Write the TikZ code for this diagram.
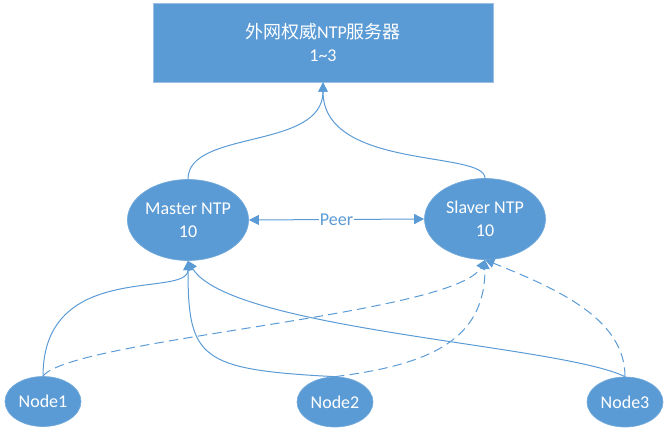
\documentclass[tikz,border=0pt]{standalone}
\usepackage{fontspec}
\setmainfont{Carlito}
\newfontfamily\cjk{Noto Sans CJK SC}
\usetikzlibrary{arrows.meta,shapes.geometric}
\definecolor{vblue}{HTML}{5B9BD5}
\definecolor{vedge}{HTML}{9CBFE3}
\tikzset{
  txt/.style={text=white,font=\fontsize{13.5}{17.25}\selectfont,align=center,inner sep=0pt},
  bigell/.style={ellipse,fill=vblue,draw=vblue!85!white,line width=0.5pt,minimum width=90.75pt,minimum height=60.75pt,txt},
  smallell/.style={ellipse,fill=vblue,draw=vblue!85!white,line width=0.5pt,minimum width=57pt,minimum height=37.5pt,txt},
  topbox/.style={rectangle,fill=vblue,draw=vedge,line width=0.6pt,minimum width=255pt,minimum height=59.25pt,txt},
  conn/.style={draw=vblue,line width=0.75pt,-{Triangle[length=7pt,width=7pt]}},
  dconn/.style={conn,dash pattern=on 7pt off 4pt},
  peerarrow/.style={draw=vblue,line width=0.75pt,{Triangle[length=7.5pt,width=7.5pt]}-{Triangle[length=7.5pt,width=7.5pt]}},
  peerlbl/.style={fill=white,text=vblue,font=\fontsize{13.5}{17.25}\selectfont,inner sep=1pt}
}
\begin{document}
\begin{tikzpicture}[x=0.75pt,y=-0.75pt]
\useasboundingbox (0,0) rectangle (670,435);
\node[topbox] (srv) at (323,42.5) {{\cjk 外网权威}NTP{\cjk 服务器}\\1\textasciitilde 3};
\node[bigell] (master) at (188,220) {Master NTP\\10};
\node[bigell] (slaver) at (485,219) {Slaver NTP\\10};
\node[smallell] (n1) at (43,401.5) {Node1};
\node[smallell] (n2) at (335,402) {Node2};
\node[smallell] (n3) at (625,402) {Node3};
% to server
\draw[conn] (master.north) .. controls +(0,-50) and +(0,68) .. (srv.south);
\draw[conn] (slaver.north) .. controls +(0,-28) and +(0,88) .. (srv.south);
% peer
\draw[peerarrow] (master.east) -- node[peerlbl] (peer) {Peer} (slaver.west);
% nodes to master
\draw[conn] (n1.north) .. controls +(0,-117) and +(0,38) .. (master.south);
\draw[conn] (n2.north) .. controls +(-135,-7) and +(0,98) .. (master.south);
\draw[conn] (n3.north) .. controls +(-65,-32) and +(42,69) .. (master.south);
% nodes to slaver
\draw[dconn] (n1.north) .. controls +(27,-37) and +(-30,55) .. (slaver.south);
\draw[dconn] (n2.north) .. controls +(95,-12) and +(0,80) .. (slaver.south);
\draw[dconn] (n3.north) .. controls +(0,-57) and +(75,30) .. (slaver.south);
\end{tikzpicture}
\end{document}
